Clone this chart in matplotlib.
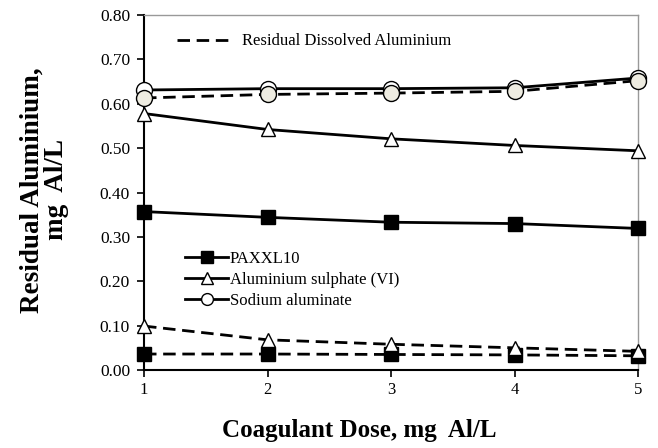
import matplotlib
matplotlib.use("Agg")
import matplotlib.pyplot as plt
from matplotlib.lines import Line2D

plt.rcParams['font.family'] = ['Liberation Serif', 'DejaVu Serif']

dose = [1, 2, 3, 4, 5]
pax_total = [0.357, 0.344, 0.333, 0.330, 0.319]
alum_total = [0.578, 0.542, 0.521, 0.506, 0.494]
sodium_total = [0.631, 0.634, 0.634, 0.636, 0.658]
pax_diss = [0.036, 0.036, 0.035, 0.034, 0.032]
alum_diss = [0.099, 0.068, 0.058, 0.050, 0.042]
sodium_diss = [0.613, 0.621, 0.624, 0.628, 0.652]
xticks = [1, 2, 3, 4, 5]
yticks = [0.0, 0.1, 0.2, 0.3, 0.4, 0.5, 0.6, 0.7, 0.8]

W, H = 658, 448
fig = plt.figure(figsize=(W/100, H/100), dpi=100)
L, R, T, B = 144, 638, 15, 370
ax = fig.add_axes([L/W, 1 - B/H, (R-L)/W, (B-T)/H])

lw = 2.0
dash = (0, (4.5, 2.4))
beige = '#EEECE1'

# dissolved (dashed)
ax.plot(dose, pax_diss, color='black', lw=lw, linestyle=dash, marker='s', ms=10,
        mfc='black', mec='black', clip_on=False, zorder=3)
ax.plot(dose, alum_diss, color='black', lw=lw, linestyle=dash, marker='^', ms=10,
        mfc='white', mec='black', clip_on=False, zorder=3)
# totals (solid)
ax.plot(dose, pax_total, color='black', lw=lw, marker='s', ms=10,
        mfc='black', mec='black', clip_on=False, zorder=3)
ax.plot(dose, alum_total, color='black', lw=lw, marker='^', ms=10,
        mfc='white', mec='black', clip_on=False, zorder=3)
ax.plot(dose, sodium_total, color='black', lw=lw, marker='o', ms=11.5,
        mfc='white', mec='black', clip_on=False, zorder=3)
ax.plot(dose, sodium_diss, color='black', lw=lw, linestyle=dash, marker='o', ms=11.5,
        mfc=beige, mec='black', clip_on=False, zorder=4)

ax.set_xlim(1, 5)
ax.set_ylim(0, 0.8)
ax.set_xticks(xticks)
ax.set_yticks(yticks)
ax.set_xticklabels([str(v) for v in xticks], fontsize=12)
ax.set_yticklabels([f"{v:.2f}" for v in yticks], fontsize=12.5)
ax.tick_params(axis='both', direction='out', length=5, width=1.2, color='black')
ax.tick_params(axis='y', pad=5)
ax.tick_params(axis='x', pad=4)

for s in ['left', 'bottom']:
    ax.spines[s].set_color('black')
    ax.spines[s].set_linewidth(1.5)
for s in ['top', 'right']:
    ax.spines[s].set_color('#999999')
    ax.spines[s].set_linewidth(1.0)

fig.text(359/W, 1 - 430/H, 'Coagulant Dose, mg  Al/L', fontsize=18, fontweight='bold',
         ha='center', va='center')
fig.text(44/W, 1 - 190/H, 'Residual Aluminium,\nmg  Al/L', fontsize=19.5, fontweight='bold',
         ha='center', va='center', rotation=90, multialignment='center', linespacing=0.95)

handles = [
    Line2D([], [], color='black', lw=lw, marker='s', ms=8.5, mfc='black', mec='black'),
    Line2D([], [], color='black', lw=lw, marker='^', ms=8.5, mfc='white', mec='black'),
    Line2D([], [], color='black', lw=lw, marker='o', ms=8.5, mfc='white', mec='black'),
]
leg = ax.legend(handles, ['PAXXL10', 'Aluminium sulphate (VI)', 'Sodium aluminate'],
                loc='upper left', bbox_to_anchor=(0.083, 0.335), frameon=False,
                fontsize=12, handlelength=2.6, handletextpad=0.1, labelspacing=0.3,
                borderaxespad=0, borderpad=0)
ax.add_artist(leg)

h2 = [Line2D([], [], color='black', lw=lw, linestyle=dash)]
ax.legend(h2, ['Residual Dissolved Aluminium'], loc='upper left',
          bbox_to_anchor=(0.067, 0.948), frameon=False, fontsize=12,
          handlelength=3.3, handletextpad=0.6, borderaxespad=0, borderpad=0)

fig.savefig('out.png', dpi=100)
